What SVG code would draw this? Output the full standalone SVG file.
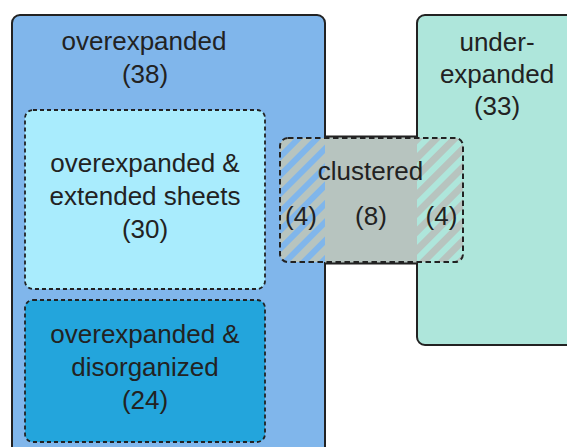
<svg xmlns="http://www.w3.org/2000/svg" width="567" height="447" viewBox="0 0 567 447">
<style>
text{font-family:"Liberation Sans",Arial,sans-serif;font-size:26px;fill:#222;text-anchor:middle}
.outer{stroke:#222;stroke-width:2}
.dash{fill:none;stroke:#222;stroke-width:2;stroke-dasharray:5.5 3.5}
.idash{fill:none;stroke:#222;stroke-width:1.8;stroke-dasharray:4 3}
</style>
<defs>
<pattern id="stripes" patternUnits="userSpaceOnUse" width="13" height="13" patternTransform="rotate(45)">
<rect x="0" y="0" width="7" height="13" fill="#b7c4bf"/>
</pattern>
<clipPath id="clusterClip"><rect x="280" y="138" width="183" height="124" rx="8"/></clipPath>
</defs>
<rect width="567" height="447" fill="#fff"/>
<g id="overexpanded">
<rect class="outer" x="12" y="15" width="313" height="450" rx="8" fill="#80b6eb"/>
<text x="144" y="50">overexpanded</text>
<text x="145" y="83">(38)</text>
</g>
<g id="underexpanded">
<rect class="outer" x="417" y="15" width="170" height="330" rx="8" fill="#aee6db"/>
<text x="497" y="51">under-</text>
<text x="497" y="83">expanded</text>
<text x="497" y="115">(33)</text>
</g>
<g id="extended-sheets">
<rect x="25" y="110" width="240" height="179" rx="8" fill="#a9ecfd"/>
<rect class="idash" x="25" y="110" width="240" height="179" rx="8"/>
<text x="145" y="172">overexpanded &amp;</text>
<text x="145" y="205">extended sheets</text>
<text x="145" y="238">(30)</text>
</g>
<g id="disorganized">
<rect x="25" y="300" width="240" height="142" rx="8" fill="#23a5dc"/>
<rect class="idash" x="25" y="300" width="240" height="142" rx="8"/>
<text x="145" y="343">overexpanded &amp;</text>
<text x="145" y="376">disorganized</text>
<text x="145" y="409">(24)</text>
</g>
<g id="clustered">
<rect x="325" y="137" width="92" height="127" fill="#b7c4bf"/>
<g clip-path="url(#clusterClip)">
<rect x="280" y="130" width="45" height="140" fill="#80b6eb"/>
<rect x="280" y="130" width="45" height="140" fill="url(#stripes)"/>
<rect x="325" y="130" width="92" height="140" fill="#b7c4bf"/>
<rect x="417" y="130" width="50" height="140" fill="#aee6db"/>
<rect x="417" y="130" width="50" height="140" fill="url(#stripes)"/>
</g>
<line x1="324" y1="136.5" x2="418" y2="136.5" stroke="#222" stroke-width="2"/>
<line x1="324" y1="263.5" x2="418" y2="263.5" stroke="#222" stroke-width="2"/>
<rect class="dash" x="280" y="138" width="183" height="124" rx="8"/>
<text x="370.5" y="180">clustered</text>
<text x="301" y="225">(4)</text>
<text x="371" y="225">(8)</text>
<text x="441.5" y="225">(4)</text>
</g>
<g id="connectors"/>
</svg>
